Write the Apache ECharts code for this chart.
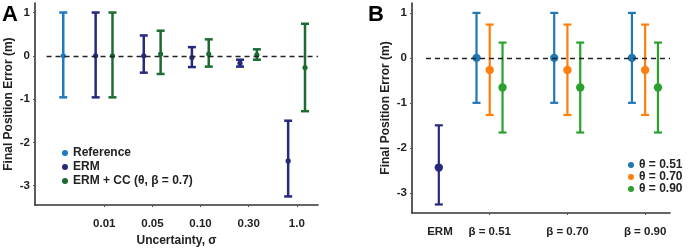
<!DOCTYPE html>
<html>
<head>
<meta charset="utf-8">
<script src="https://cdn.jsdelivr.net/npm/echarts@6/dist/echarts.min.js"></script>
<style>
  html, body { margin: 0; padding: 0; background: #fff; }
  #main { width: 699px; height: 252px; }
</style>
</head>
<body>
<div id="main"></div>
<script>
// panel A: uncertainty levels
const catsA = ['0.01', '0.05', '0.10', '0.30', '1.0'];
const refMeanA = [0];
const refLowA = [-0.96];
const refHighA = [1.0];
const ermMeanA = [0, 0, -0.04, -0.17, -2.43];
const ermLowA = [-0.96, -0.39, -0.26, -0.25, -3.25];
const ermHighA = [1.0, 0.47, 0.20, -0.09, -1.50];
const ccMeanA = [0, 0.04, 0.04, 0.02, -0.27];
const ccLowA = [-0.96, -0.42, -0.25, -0.09, -1.28];
const ccHighA = [1.0, 0.58, 0.38, 0.15, 0.74];

// panel B: beta groups
const catsB = ['β = 0.51', 'β = 0.70', 'β = 0.90'];
const ermMeanB = [-2.44];
const ermLowB = [-3.26];
const ermHighB = [-1.50];
const t51Mean = [0, 0, 0];
const t51Low = [-1.0, -1.0, -1.0];
const t51High = [1.0, 1.0, 1.0];
const t70Mean = [-0.27, -0.27, -0.27];
const t70Low = [-1.27, -1.27, -1.27];
const t70High = [0.74, 0.74, 0.74];
const t90Mean = [-0.66, -0.66, -0.66];
const t90Low = [-1.66, -1.66, -1.66];
const t90High = [0.34, 0.34, 0.34];

const yTicks = [-3, -2, -1, 0, 1];
const txt = '#222';
const font = 'Liberation Sans, Arial, sans-serif';

// build [x, mean, low, high] rows; x = category position + offset
function rows(pos, offset, mean, low, high) {
    return mean.map(function (m, i) {
        return [pos[i] + offset, m, low[i], high[i]];
    });
}

function errBar(capHalf, radius, lw) {
    return function (params, api) {
        let x = api.value(0);
        let pM = api.coord([x, api.value(1)]);
        let pL = api.coord([x, api.value(2)]);
        let pH = api.coord([x, api.value(3)]);
        let c = api.visual('color');
        let st = {stroke: c, lineWidth: lw};
        return {
            type: 'group',
            children: [
                {type: 'line', shape: {x1: pH[0], y1: pH[1], x2: pL[0], y2: pL[1]}, style: st},
                {type: 'line', shape: {x1: pH[0] - capHalf, y1: pH[1], x2: pH[0] + capHalf, y2: pH[1]}, style: st},
                {type: 'line', shape: {x1: pL[0] - capHalf, y1: pL[1], x2: pL[0] + capHalf, y2: pL[1]}, style: st},
                {type: 'circle', shape: {cx: pM[0], cy: pM[1], r: radius}, style: {fill: c}}
            ]
        };
    };
}

function ebSeries(name, idx, color, data, big) {
    return {
        name: name,
        type: 'custom',
        xAxisIndex: idx,
        yAxisIndex: idx,
        itemStyle: {color: color},
        renderItem: big ? errBar(4, 4.2, 2.2) : errBar(4, 2.6, 2.5),
        encode: {x: 0, y: [1, 2, 3]},
        data: data,
        z: 3
    };
}

function zeroLine(idx, from, to) {
    return {
        type: 'line',
        xAxisIndex: idx,
        yAxisIndex: idx,
        data: [],
        silent: true,
        markLine: {
            silent: true,
            symbol: 'none',
            label: {show: false},
            lineStyle: {color: '#222', type: [5, 4], width: 1.4},
            data: [[{coord: [from, 0]}, {coord: [to, 0]}]]
        },
        z: 2
    };
}

function yAxisCfg(idx) {
    return {
        type: 'value',
        gridIndex: idx,
        min: -3.45,
        max: 1.22,
        name: 'Final Position Error (m)',
        nameLocation: 'middle',
        nameGap: 20,
        nameTextStyle: {color: txt, fontSize: 12, fontWeight: 'bold', fontFamily: font},
        axisLine: {show: true, onZero: false, lineStyle: {color: '#333', width: 1.6}},
        axisTick: {show: true, length: 2, customValues: yTicks, lineStyle: {color: '#555'}},
        axisLabel: {customValues: yTicks, color: txt, fontSize: 11.5, fontWeight: 'bold', fontFamily: font, margin: 5},
        splitLine: {show: false}
    };
}

const posA = [1, 2, 3, 4, 5];
const posB = [1, 2, 3];

let myChart = echarts.init(document.getElementById('main'));

let option = {
    animation: false,
    backgroundColor: '#fff',
    textStyle: {fontFamily: font},
    grid: [
        {left: 35, top: 3, width: 283, height: 210},
        {left: 412, top: 3, width: 258, height: 210}
    ],
    xAxis: [
        {
            type: 'value',
            gridIndex: 0,
            min: -0.44,
            max: 5.44,
            name: 'Uncertainty, σ',
            nameLocation: 'middle',
            nameGap: 26,
            nameTextStyle: {color: txt, fontSize: 12, fontWeight: 'bold', fontFamily: font},
            axisLine: {onZero: false, lineStyle: {color: '#333', width: 1.6}},
            axisTick: {show: true, length: 2, customValues: posA, lineStyle: {color: '#555'}},
            axisLabel: {
                customValues: posA,
                color: txt, fontSize: 11.5, fontWeight: 'bold', fontFamily: font, margin: 13,
                formatter: function (v) { return catsA[Math.round(v) - 1]; }
            },
            splitLine: {show: false}
        },
        {
            type: 'value',
            gridIndex: 1,
            min: 0,
            max: 3.32,
            axisLine: {onZero: false, lineStyle: {color: '#333', width: 1.6}},
            axisTick: {show: true, length: 2, customValues: posB, lineStyle: {color: '#555'}},
            axisLabel: {
                customValues: [0.36].concat(posB),
                color: txt, fontSize: 11.5, fontWeight: 'bold', fontFamily: font, margin: 13,
                formatter: function (v) { return v < 0.5 ? 'ERM' : catsB[Math.round(v) - 1]; }
            },
            splitLine: {show: false}
        }
    ],
    yAxis: [yAxisCfg(0), yAxisCfg(1)],
    legend: [
        {
            orient: 'vertical',
            left: 57,
            top: 142,
            itemWidth: 6,
            itemHeight: 6,
            itemGap: 2,
            icon: 'circle',
            textStyle: {color: txt, fontSize: 12, fontWeight: 'bold', fontFamily: font},
            data: ['Reference', 'ERM', 'ERM + CC (θ, β = 0.7)']
        },
        {
            orient: 'vertical',
            left: 623,
            top: 154,
            itemWidth: 6,
            itemHeight: 6,
            itemGap: 0,
            icon: 'circle',
            textStyle: {color: txt, fontSize: 12, fontWeight: 'bold', fontFamily: font},
            data: ['θ = 0.51', 'θ = 0.70', 'θ = 0.90']
        }
    ],
    graphic: [
        {type: 'text', left: 2, top: 4, style: {text: 'A', fontSize: 22, fontWeight: 'bold', fill: '#000', fontFamily: font}},
        {type: 'text', left: 368, top: 4, style: {text: 'B', fontSize: 22, fontWeight: 'bold', fill: '#000', fontFamily: font}}
    ],
    series: [
        zeroLine(0, -0.2, 5.44),
        zeroLine(1, 0.18, 3.32),
        ebSeries('Reference', 0, '#1f79c0', rows([0.147], 0, refMeanA, refLowA, refHighA), false),
        ebSeries('ERM', 0, '#27297e', rows(posA, -0.18, ermMeanA, ermLowA, ermHighA), false),
        ebSeries('ERM + CC (θ, β = 0.7)', 0, '#1b6b33', rows(posA, 0.17, ccMeanA, ccLowA, ccHighA), false),
        ebSeries('ERM', 1, '#27297e', rows([0.345], 0, ermMeanB, ermLowB, ermHighB), true),
        ebSeries('θ = 0.51', 1, '#1f77b4', rows(posB, -0.17, t51Mean, t51Low, t51High), true),
        ebSeries('θ = 0.70', 1, '#ff7f0e', rows(posB, 0, t70Mean, t70Low, t70High), true),
        ebSeries('θ = 0.90', 1, '#2ca02c', rows(posB, 0.165, t90Mean, t90Low, t90High), true)
    ]
};

myChart.setOption(option);
</script>
</body>
</html>
